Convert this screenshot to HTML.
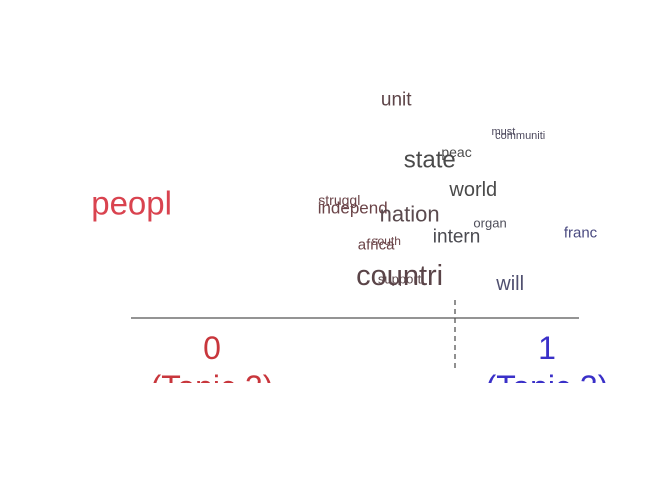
<!DOCTYPE html>
<html><head><meta charset="utf-8">
<style>
html,body{margin:0;padding:0;background:#fff;}
svg{display:block;font-family:"Liberation Sans",sans-serif;}
</style></head>
<body>
<svg id="chart" width="672" height="480" viewBox="0 0 672 480">
  <defs><clipPath id="clip"><rect x="0" y="0" width="672" height="383"/></clipPath></defs>
  <g id="plot" clip-path="url(#clip)">
    <line x1="131" y1="318" x2="579" y2="318" stroke="#555" stroke-width="1.3"/>
    <line x1="455" y1="300" x2="455" y2="370" stroke="#555" stroke-width="1.3" stroke-dasharray="5,4"/>
    <text x="212" y="359" text-anchor="middle" font-size="32" fill="#c8363c">0</text>
    <text x="212" y="398" text-anchor="middle" font-size="32" fill="#c8363c">(Topic 2)</text>
    <text x="547" y="359" text-anchor="middle" font-size="32" fill="#3a30c8">1</text>
    <text x="547" y="398" text-anchor="middle" font-size="32" fill="#3a30c8">(Topic 3)</text>
  </g>
</svg>
<script>
const words = ["peopl","unit","must","communiti","state","peac","world","struggl","independ","nation","organ","franc","intern","africa","south","countri","support","will"];
const xValues = [-0.24,0.55,0.87,0.92,0.65,0.73,0.78,0.38,0.42,0.59,0.83,1.10,0.73,0.49,0.52,0.56,0.56,0.89];
const yValues = [0.485,1.0,0.84,0.82,0.70,0.74,0.55,0.50,0.46,0.43,0.385,0.335,0.315,0.275,0.295,0.12,0.105,0.08];
const sizes = [33,19,11,11,24,14,20,14,17,22,13,15,19,15,12,29,13,20];
const colors = ["#d9434f","#5d4448","#4e4a5e","#4e4a5e","#4a4a4a","#4a4a4a","#4a4a4a","#6b4448","#6b4448","#5a4a4e","#4e4e5a","#4a4a80","#4a4a50","#6b4448","#6b4448","#5a4448","#5a4448","#505070"];
function xScale(v){return 212 + v*335;}
function yScale(v){return 300 - v*200;}
const g = document.getElementById('plot');
const ns = "http://www.w3.org/2000/svg";
for (let i=0;i<words.length;i++){
  const t = document.createElementNS(ns,'text');
  t.setAttribute('x', xScale(xValues[i]));
  t.setAttribute('y', yScale(yValues[i]));
  t.setAttribute('text-anchor','middle');
  t.setAttribute('dominant-baseline','central');
  t.setAttribute('font-size', sizes[i]);
  t.setAttribute('fill', colors[i]);
  
  
  t.textContent = words[i];
  g.appendChild(t);
}
</script>
</body></html>
